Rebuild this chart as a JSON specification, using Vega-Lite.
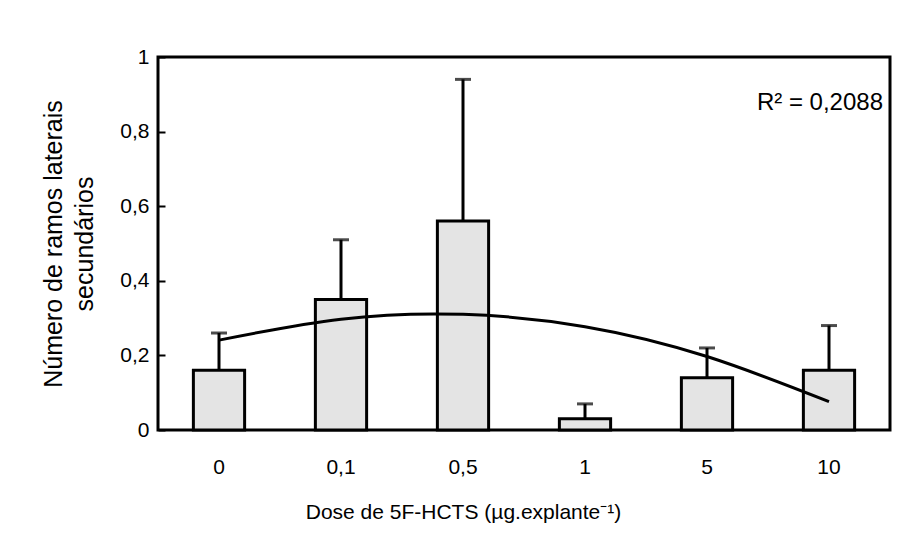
{
  "$schema": "https://vega.github.io/schema/vega-lite/v6.json",
  "width": 732,
  "height": 373,
  "autosize": {"type": "none"},
  "padding": {"left": 158, "top": 57, "right": 8, "bottom": 118},
  "background": "white",
  "config": {
    "font": "Liberation Sans",
    "view": {"stroke": "black", "strokeWidth": 3},
    "axis": {"labelColor": "black", "titleColor": "black", "labelFont": "Liberation Sans", "titleFont": "Liberation Sans", "titleFontWeight": "normal", "grid": false, "domain": false}
  },
  "data": {"values": [
    {"dose": "0", "mean": 0.16, "upper": 0.26, "fit": 0.241},
    {"dose": "0,1", "mean": 0.35, "upper": 0.51, "fit": 0.297},
    {"dose": "0,5", "mean": 0.56, "upper": 0.94, "fit": 0.31},
    {"dose": "1", "mean": 0.03, "upper": 0.07, "fit": 0.277},
    {"dose": "5", "mean": 0.14, "upper": 0.22, "fit": 0.197},
    {"dose": "10", "mean": 0.16, "upper": 0.28, "fit": 0.076}
  ]},
  "encoding": {
    "x": {
      "field": "dose", "type": "ordinal", "sort": null,
      "scale": {"paddingInner": 0, "paddingOuter": 0},
      "axis": {"labelAngle": 0, "ticks": false, "labelPadding": 26, "labelFontSize": 21, "title": "Dose de 5F-HCTS (µg.explante⁻¹)", "titleFontSize": 21, "titlePadding": 24, "titleX": 305, "titleAlign": "center"}
    }
  },
  "layer": [
    {
      "mark": {"type": "bar", "width": {"band": 0.42}, "fill": "#e4e4e4", "stroke": "black", "strokeWidth": 3},
      "encoding": {
        "y": {"field": "mean", "type": "quantitative", "scale": {"domain": [0, 1], "nice": false},
          "title": ["Número de ramos laterais", "secundários"],
          "axis": {"values": [0, 0.2, 0.4, 0.6, 0.8, 1], "labelExpr": "replace(format(datum.value, '.1~f'), '.', ',')", "labelFontSize": 21, "tickSize": -7, "tickWidth": 2, "tickColor": "black", "labelPadding": 16, "titleFontSize": 25, "titleLineHeight": 31, "titlePadding": 22}}
      }
    },
    {
      "mark": {"type": "rule", "strokeWidth": 3, "color": "black"},
      "encoding": {"y": {"field": "mean", "type": "quantitative", "title": ["Número de ramos laterais", "secundários"]}, "y2": {"field": "upper"}}
    },
    {
      "mark": {"type": "tick", "orient": "horizontal", "size": 16, "thickness": 3, "color": "black"},
      "encoding": {"y": {"field": "upper", "type": "quantitative", "title": ["Número de ramos laterais", "secundários"]}}
    },
    {
      "mark": {"type": "line", "interpolate": "natural", "strokeWidth": 3, "color": "black"},
      "encoding": {"y": {"field": "fit", "type": "quantitative", "title": ["Número de ramos laterais", "secundários"]}}
    },
    {
      "data": {"values": [{"dose": "10", "ypos": 0.858, "label": "R² = 0,2088"}]},
      "mark": {"type": "text", "align": "right", "baseline": "alphabetic", "dx": 54, "fontSize": 24, "color": "black"},
      "encoding": {"y": {"field": "ypos", "type": "quantitative", "title": ["Número de ramos laterais", "secundários"]}, "text": {"field": "label"}}
    }
  ]
}
